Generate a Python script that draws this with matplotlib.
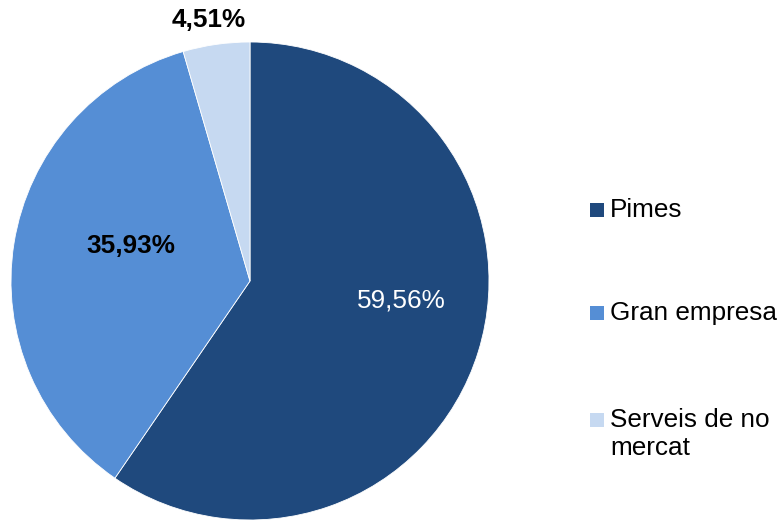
import matplotlib
matplotlib.use("Agg")
import matplotlib.pyplot as plt
from matplotlib.patches import Rectangle
import numpy as np

categories = ["Pimes", "Gran empresa", "Serveis de no\nmercat"]
values = [59.56, 35.93, 4.51]
labels = ["59,56%", "35,93%", "4,51%"]
colors = ["#1F497D", "#558ED5", "#C6D9F1"]
label_colors = ["white", "black", "black"]
label_weights = ["normal", "bold", "bold"]
label_radii = [0.64, 0.52, 1.105]
label_angle_shift = [10.0, -7.2, 0.8]

plt.rcParams['font.family'] = ['Liberation Sans', 'DejaVu Sans']

W, H = 782, 520
fig = plt.figure(figsize=(W / 100, H / 100), dpi=100)
ax = fig.add_axes([11 / W, 0 / H, 478 / W, 478 / H])
wedges, _ = ax.pie(values, colors=colors, startangle=90, counterclock=False,
                   radius=1.0, wedgeprops=dict(edgecolor="white", linewidth=0.6))
ax.set_xlim(-1, 1)
ax.set_ylim(-1, 1)
ax.set_aspect("equal")
ax.axis("off")

# labels at wedge mid-angles
total = sum(values)
start = 90.0
for v, lab, c, w, r, s in zip(values, labels, label_colors, label_weights,
                              label_radii, label_angle_shift):
    ang = start - v / total * 360 / 2 + s
    start -= v / total * 360
    x, y = r * np.cos(np.radians(ang)), r * np.sin(np.radians(ang))
    ax.text(x, y, lab, color=c, fontweight=w, fontsize=18.8, ha="center", va="center",
            clip_on=False)

# legend
ys = [210, 313, 420]
for cat, col, y in zip(categories, colors, ys):
    fig.patches.append(Rectangle((590 / W, 1 - (y + 7) / H), 14 / W, 14 / H,
                                 transform=fig.transFigure, facecolor=col, edgecolor="none"))
    fig.text(610 / W, 1 - (y - 12) / H, cat, fontsize=18.8, ha="left", va="top",
             linespacing=1.2)

fig.savefig("out.png", dpi=100)
